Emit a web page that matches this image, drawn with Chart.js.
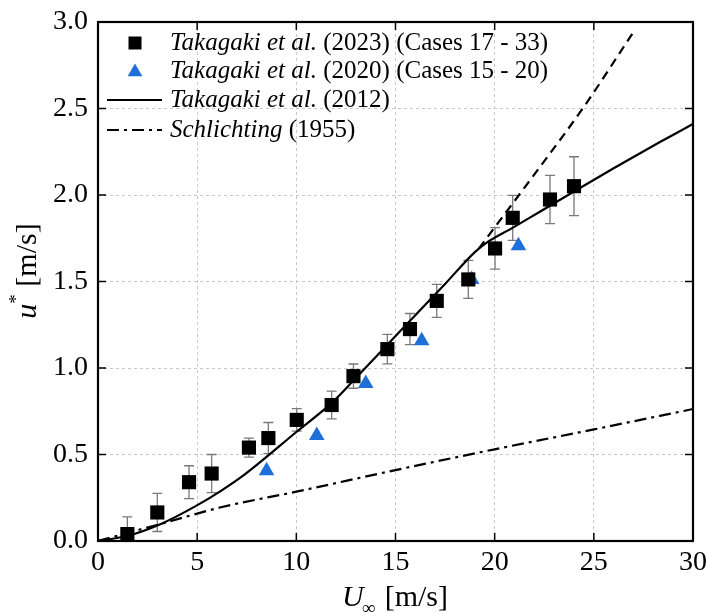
<!DOCTYPE html>
<html>
<head>
<meta charset="utf-8">
<script src="https://cdn.jsdelivr.net/npm/chart.js@4/dist/chart.umd.min.js"></script>
<style>
  html, body { margin: 0; padding: 0; background: #fff; }
  #grafico { display: block; }
</style>
</head>
<body>
<canvas id="grafico" width="706" height="613"></canvas>
<script>
// Takagaki et al. (2023) - pontos com barra de erro
const u2023X = [1.48, 2.99, 4.59, 5.73, 7.61, 8.59, 10.02, 11.78, 12.88, 14.59, 15.73, 17.08, 18.67, 20.02, 20.91, 22.79, 24.0];
const u2023Y = [0.04, 0.165, 0.34, 0.39, 0.54, 0.595, 0.70, 0.786, 0.953, 1.109, 1.225, 1.388, 1.512, 1.691, 1.868, 1.974, 2.051];
const erro2023 = [0.10, 0.11, 0.095, 0.11, 0.055, 0.09, 0.065, 0.08, 0.07, 0.085, 0.09, 0.095, 0.11, 0.12, 0.13, 0.14, 0.17];

// Takagaki et al. (2020)
const u2020X = [8.5, 11.03, 13.5, 16.32, 18.84, 21.2];
const u2020Y = [0.406, 0.61, 0.91, 1.157, 1.512, 1.706];

// Takagaki et al. (2012) - curva contínua
const curva2012X = [0, 1.5, 3.2, 4.9, 6.2, 7.4, 10, 11.8, 12.9, 14.6, 16, 17.5, 19.0, 19.6, 20.9, 22.3, 24, 26, 28, 30];
const curva2012Y = [0, 0.03, 0.10, 0.20, 0.29, 0.385, 0.63, 0.80, 0.93, 1.136, 1.305, 1.486, 1.67, 1.725, 1.81, 1.905, 2.02, 2.155, 2.285, 2.41];

// extensão tracejada
const extensaoX = [19.2, 22.3, 24.5, 27.1];
const extensaoY = [1.69, 2.165, 2.51, 2.96];

// Schlichting (1955)
const schlichtingX = [0, 3.2, 6.2, 10, 15, 20, 25, 30];
const schlichtingY = [0, 0.10, 0.195, 0.285, 0.41, 0.53, 0.645, 0.763];

const ticksX = [0, 5, 10, 15, 20, 25, 30];
const ticksY = [0, 0.5, 1.0, 1.5, 2.0, 2.5, 3.0];

const legendaTextos = [
  [{ t: "Takagaki et al.", i: true }, { t: " (2023) (Cases 17 - 33)", i: false }],
  [{ t: "Takagaki et al.", i: true }, { t: " (2020) (Cases 15 - 20)", i: false }],
  [{ t: "Takagaki et al.", i: true }, { t: " (2012)", i: false }],
  [{ t: "Schlichting", i: true }, { t: " (1955)", i: false }]
];

const FONTE = "'Liberation Serif', 'Times New Roman', serif";
const AZUL = "#1f6fd8";

const pares = (xs, ys) => xs.map((x, i) => ({ x, y: ys[i] }));

function textoRico(ctx, partes, x, y, tamanho) {
  partes.forEach(p => {
    ctx.font = (p.i ? "italic " : "") + tamanho + "px " + FONTE;
    ctx.fillText(p.t, x, y);
    x += ctx.measureText(p.t).width;
  });
  return x;
}

function triangulo(ctx, x, y, r) {
  ctx.beginPath();
  for (let k = 0; k < 3; k++) {
    const a = -Math.PI / 2 + k * 2 * Math.PI / 3;
    ctx[k ? "lineTo" : "moveTo"](x + r * Math.cos(a), y + r * Math.sin(a));
  }
  ctx.closePath();
  ctx.fill();
}

const barrasErro = {
  id: "barrasErro",
  beforeDatasetsDraw(chart) {
    const { ctx, scales: { x, y } } = chart;
    ctx.save();
    ctx.strokeStyle = "#7a7a7a";
    ctx.lineWidth = 1.3;
    u2023X.forEach((v, i) => {
      const px = x.getPixelForValue(v);
      const topo = y.getPixelForValue(u2023Y[i] + erro2023[i]);
      const base = y.getPixelForValue(Math.max(0, u2023Y[i] - erro2023[i]));
      ctx.beginPath();
      ctx.moveTo(px, topo); ctx.lineTo(px, base);
      ctx.moveTo(px - 5, topo); ctx.lineTo(px + 5, topo);
      if (u2023Y[i] - erro2023[i] > 0) { ctx.moveTo(px - 5, base); ctx.lineTo(px + 5, base); }
      ctx.stroke();
    });
    ctx.restore();
  }
};

const moldura = {
  id: "moldura",
  afterDraw(chart) {
    const { ctx, chartArea: a, scales: { x, y } } = chart;
    ctx.save();
    ctx.strokeStyle = "#000";
    ctx.lineWidth = 1.5;
    ctx.beginPath();
    ticksX.forEach(v => {
      const px = x.getPixelForValue(v);
      ctx.moveTo(px, a.bottom); ctx.lineTo(px, a.bottom - 8);
      ctx.moveTo(px, a.top); ctx.lineTo(px, a.top + 8);
    });
    ticksY.forEach(v => {
      const py = y.getPixelForValue(v);
      ctx.moveTo(a.left, py); ctx.lineTo(a.left + 8, py);
      ctx.moveTo(a.right, py); ctx.lineTo(a.right - 8, py);
    });
    ctx.stroke();
    ctx.lineWidth = 2.2;
    ctx.strokeRect(a.left, a.top, a.right - a.left, a.bottom - a.top);

    // legenda
    ctx.fillStyle = "#000";
    ctx.textBaseline = "middle";
    const lx = a.left + 37, tx = a.left + 72;
    const linhas = [a.top + 21, a.top + 49, a.top + 78, a.top + 108];
    ctx.fillRect(lx - 6.5, linhas[0] - 6.5, 13, 13);
    ctx.fillStyle = AZUL;
    triangulo(ctx, lx, linhas[1] + 1, 8.5);
    ctx.fillStyle = "#000";
    ctx.lineWidth = 2;
    ctx.beginPath(); ctx.moveTo(a.left + 9, linhas[2]); ctx.lineTo(a.left + 64, linhas[2]); ctx.stroke();
    ctx.setLineDash([12, 5, 3, 5]);
    ctx.beginPath(); ctx.moveTo(a.left + 9, linhas[3]); ctx.lineTo(a.left + 64, linhas[3]); ctx.stroke();
    ctx.setLineDash([]);
    legendaTextos.forEach((partes, i) => textoRico(ctx, partes, tx, linhas[i], 25));

    // títulos dos eixos
    ctx.textBaseline = "alphabetic";
    ctx.font = "italic 30px " + FONTE;
    let w = ctx.measureText("U").width;
    ctx.font = "19px " + FONTE;
    w += ctx.measureText("\u221E").width;
    ctx.font = "30px " + FONTE;
    w += ctx.measureText(" [m/s]").width;
    let cx = 395 - w / 2;
    ctx.font = "italic 30px " + FONTE;
    ctx.fillText("U", cx, 606);
    cx += ctx.measureText("U").width;
    ctx.font = "19px " + FONTE;
    ctx.fillText("\u221E", cx - 2, 614);
    cx += ctx.measureText("\u221E").width;
    ctx.font = "30px " + FONTE;
    ctx.fillText(" [m/s]", cx, 606);

    ctx.translate(36, 271);
    ctx.rotate(-Math.PI / 2);
    ctx.font = "italic 30px " + FONTE;
    w = ctx.measureText("u").width;
    ctx.font = "19px " + FONTE;
    w += ctx.measureText("*").width;
    ctx.font = "30px " + FONTE;
    w += ctx.measureText(" [m/s]").width;
    cx = -w / 2;
    ctx.font = "italic 30px " + FONTE;
    ctx.fillText("u", cx, 0);
    cx += ctx.measureText("u").width;
    ctx.font = "19px " + FONTE;
    ctx.fillText("*", cx, -14);
    cx += ctx.measureText("*").width;
    ctx.font = "30px " + FONTE;
    ctx.fillText(" [m/s]", cx, 0);
    ctx.restore();
  }
};

const grade = {
  color: "#c8c8c8",
  lineWidth: 1,
  drawTicks: false
};

new Chart(document.getElementById("grafico"), {
  type: "scatter",
  data: {
    datasets: [
      {
        data: pares(u2023X, u2023Y),
        pointStyle: "rect",
        pointRadius: 10,
        backgroundColor: "#000",
        borderWidth: 0,
        showLine: false,
        order: 0
      },
      {
        data: pares(u2020X, u2020Y),
        pointStyle: "triangle",
        pointRadius: 9,
        backgroundColor: AZUL,
        borderWidth: 0,
        showLine: false,
        order: 1
      },
      {
        data: pares(curva2012X, curva2012Y),
        showLine: true,
        borderColor: "#000",
        borderWidth: 2.2,
        pointRadius: 0,
        cubicInterpolationMode: "monotone",
        order: 2
      },
      {
        data: pares(extensaoX, extensaoY),
        showLine: true,
        borderColor: "#000",
        borderWidth: 2.2,
        borderDash: [9, 6],
        pointRadius: 0,
        cubicInterpolationMode: "monotone",
        order: 3
      },
      {
        data: pares(schlichtingX, schlichtingY),
        showLine: true,
        borderColor: "#000",
        borderWidth: 2.2,
        borderDash: [12, 5, 3, 5],
        pointRadius: 0,
        cubicInterpolationMode: "monotone",
        order: 4
      }
    ]
  },
  options: {
    responsive: false,
    devicePixelRatio: 1,
    animation: false,
    layout: { padding: { top: 22, right: 13, left: 0, bottom: 0 } },
    plugins: { legend: { display: false }, tooltip: { enabled: false } },
    scales: {
      x: {
        type: "linear",
        min: 0, max: 30,
        afterBuildTicks: s => { s.ticks = ticksX.map(value => ({ value })); },
        afterFit: s => { s.height = 72; s.paddingLeft = 0; s.paddingRight = 0; },
        ticks: { color: "#000", padding: 5, font: { family: FONTE, size: 28 } },
        grid: grade,
        border: { display: false, dash: [3, 3] }
      },
      y: {
        min: 0, max: 3,
        afterBuildTicks: s => { s.ticks = ticksY.map(value => ({ value })); },
        afterFit: s => { s.width = 98; s.paddingTop = 0; s.paddingBottom = 0; },
        ticks: {
          color: "#000", padding: 10, font: { family: FONTE, size: 28 },
          callback: v => v.toFixed(1)
        },
        grid: grade,
        border: { display: false, dash: [3, 3] }
      }
    }
  },
  plugins: [barrasErro, moldura]
});
</script>
</body>
</html>
